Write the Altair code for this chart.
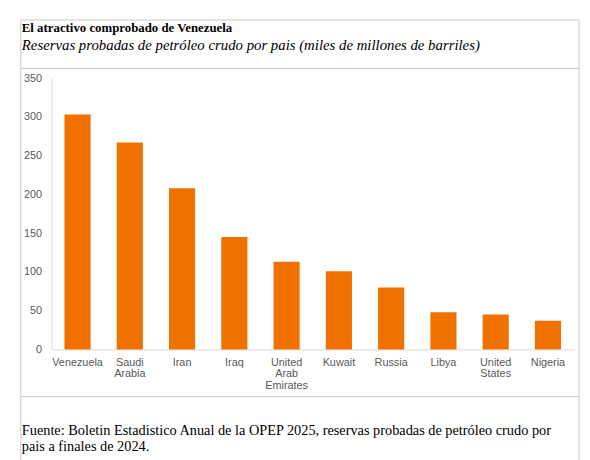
import pandas as pd
import altair as alt

# ── data ────────────────────────────────────────────────────────────────────
countries = ["Venezuela", "Saudi Arabia", "Iran", "Iraq", "United Arab Emirates",
             "Kuwait", "Russia", "Libya", "United States", "Nigeria"]
reserves = [303, 267, 208, 145, 113, 101, 80, 48, 45, 37]

TITLE = "El atractivo comprobado de Venezuela"
SUBTITLE = "Reservas probadas de petróleo crudo por pais (miles de millones de barriles)"
FOOTER_1 = "Fuente: Boletin Estadistico Anual de la OPEP 2025, reservas probadas de petróleo crudo por"
FOOTER_2 = "pais a finales de 2024."

# ── style ───────────────────────────────────────────────────────────────────
BAR = "#F07000"
BORDER = "#C8C8C8"
AXIS_LINE = "#D9D9D9"
LABEL = "#595959"
SERIF = "Liberation Serif"
SANS = "Liberation Sans"

W, H = 530, 275

df = pd.DataFrame({"country": countries, "reserves": reserves})

bars = (
    alt.Chart(df)
    .mark_bar(color=BAR)
    .encode(
        x=alt.X(
            "country:N",
            sort=countries,
            title=None,
            scale=alt.Scale(paddingInner=0.5, paddingOuter=0.25),
            axis=alt.Axis(
                labelAngle=0,
                labelFont=SANS,
                labelFontSize=11,
                labelColor=LABEL,
                labelPadding=7,
                labelLineHeight=12,
                labelExpr="split(datum.label, ' ')",
                ticks=False,
                domainColor=AXIS_LINE,
                labelLimit=0,
            ),
        ),
        y=alt.Y(
            "reserves:Q",
            title=None,
            scale=alt.Scale(domain=[0, 350]),
            axis=alt.Axis(
                values=[0, 50, 100, 150, 200, 250, 300, 350],
                labelFont=SANS,
                labelFontSize=11,
                labelColor=LABEL,
                labelPadding=10,
                ticks=False,
                grid=False,
                domainColor=AXIS_LINE,
            ),
        ),
    )
)

# ── frame lines (pixels relative to the plot origin) ───────────────────────
def rule(x, x2, y, y2, color=BORDER):
    return alt.Chart(pd.DataFrame({"k": [0]})).mark_rule(color=color, strokeWidth=1).encode(
        x=alt.value(x), x2=alt.value(x2), y=alt.value(y), y2=alt.value(y2)
    )

frame = (
    rule(-31, 535, -59, -59)
    + rule(-31, -31, -59, 390)
    + rule(535, 535, -59, 390)
    + rule(-31, 535, -10, -10)
    + rule(-31, 535, 323, 323)
)


def text(s, x, y, size, weight="normal", style="normal"):
    return alt.Chart(pd.DataFrame({"t": [s]})).mark_text(
        align="left", baseline="alphabetic", font=SERIF, fontSize=size,
        fontWeight=weight, fontStyle=style, color="#000000",
    ).encode(x=alt.value(x), y=alt.value(y), text="t:N")


texts = (
    text(TITLE, -30, -47, 13, weight="bold")
    + text(SUBTITLE, -30, -29, 15, style="italic")
    + text(FOOTER_1, -30, 362, 14.5)
    + text(FOOTER_2, -30, 378, 14.5)
)

chart = (
    alt.layer(frame, bars, texts)
    .properties(
        width=W,
        height=H,
        autosize=alt.AutoSizeParams(type="none"),
        padding={"left": 44, "top": 68, "right": 8, "bottom": 109},
    )
    .configure(background="white")
    .configure_view(strokeOpacity=0)
)

chart.save("out.html", embed_options={"renderer": "svg", "actions": False})
